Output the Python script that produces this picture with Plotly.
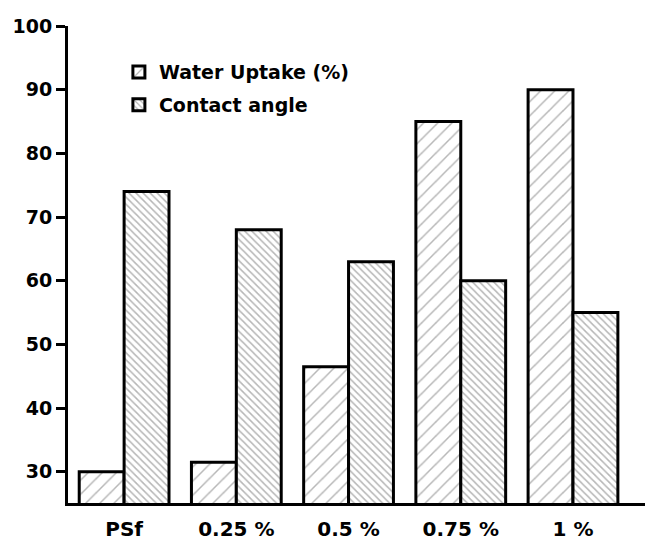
import plotly.graph_objects as go

categories = ["PSf", "0.25 %", "0.5 %", "0.75 %", "1 %"]
water_uptake = [30, 31.5, 46.5, 85, 90]
contact_angle = [74, 68, 63, 60, 55]
y_ticks = [30, 40, 50, 60, 70, 80, 90, 100]

FONT = "DejaVu Sans"

fig = go.Figure()
fig.add_trace(go.Bar(
    x=categories, y=water_uptake, name="Water Uptake (%)", legendgroup="a",
    marker=dict(color="white", line=dict(color="black", width=3),
                pattern=dict(shape="/", size=10, solidity=0.15,
                             fgcolor="#6e6e6e", bgcolor="white")),
))
fig.add_trace(go.Bar(
    x=categories, y=contact_angle, name="Contact angle", legendgroup="b",
    marker=dict(color="white", line=dict(color="black", width=3),
                pattern=dict(shape="\\", size=5, solidity=0.3,
                             fgcolor="#6e6e6e", bgcolor="white")),
))

# page body has an 8px default margin, so the figure is sized to fit
fig.update_layout(
    width=645, height=537,
    margin=dict(l=60, r=0, t=18, b=42),
    paper_bgcolor="white", plot_bgcolor="white",
    barmode="group", bargap=0.2, bargroupgap=0,
    font=dict(family=FONT, color="black"),
    showlegend=True,
    legend=dict(x=0.087, y=0.943, xanchor="left", yanchor="top",
                bgcolor="rgba(0,0,0,0)",
                font=dict(family=FONT, size=19, color="black", weight="bold"),
                tracegroupgap=5),
)
fig.update_xaxes(
    range=[-0.5, 4.713], showline=True, linecolor="black", linewidth=3,
    ticks="", showgrid=False, zeroline=False, automargin=False,
    tickfont=dict(family=FONT, size=20, color="black", weight="bold"),
    ticklabelstandoff=6,
)
fig.update_yaxes(
    range=[25.1, 100], tickvals=y_ticks, showline=True, linecolor="black",
    linewidth=3, ticks="outside", ticklen=9, tickwidth=2.5, tickcolor="black",
    showgrid=False, zeroline=False, automargin=False,
    tickfont=dict(family=FONT, size=19, color="black", weight="bold"),
)

fig.write_html("out.html")
